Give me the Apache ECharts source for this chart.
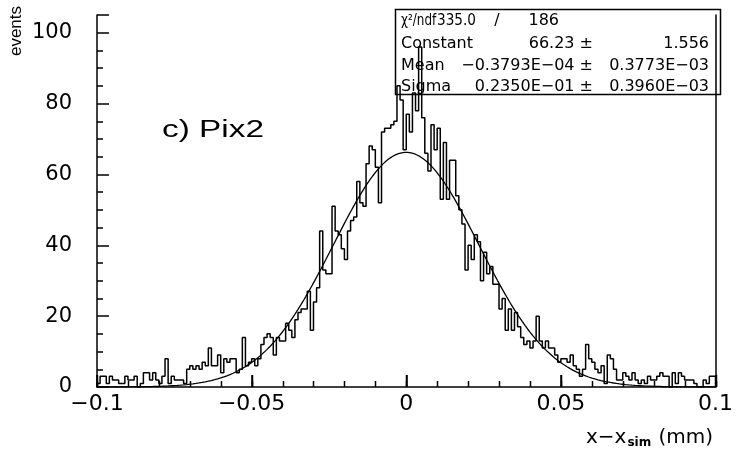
<!DOCTYPE html>
<html>
<head>
<meta charset="utf-8">
<script src="https://cdn.jsdelivr.net/npm/echarts@6/dist/echarts.min.js"></script>
<style>html,body{margin:0;padding:0;background:#fff}#c{width:736px;height:454px}</style>
</head>
<body>
<div id="c"></div>
<script>
// ---- data ----
const xMin = -0.1;
const xMax = 0.1;
const binWidth = 0.001;
const counts = [
  1,3,3,1,3,2,2,1,1,3, 2,2,3,0,1,4,4,2,4,2,
  1,3,8,1,3,2,2,2,1,5, 6,5,6,5,7,6,11,6,6,9,
  4,8,7,8,8,4,5,14,6,7, 8,6,8,12,14,15,14,9,14,13,
  13,18,16,14,19,21,22,22,27,16, 24,28,44,33,32,32,51,44,43,39,
  36,44,47,48,58,52,51,63,68,67, 62,52,72,73,73,74,75,85,81,67,
  77,72,83,78,96,76,66,61,74,67, 73,53,69,53,64,64,54,50,46,33,
  40,36,43,41,30,38,32,34,29,29, 22,25,16,22,16,21,17,14,12,13,
  11,13,20,13,11,13,11,11,9,7, 8,8,7,9,6,5,3,5,12,8,
  7,5,4,6,1,9,8,5,2,2, 4,3,2,4,2,1,2,1,3,2,
  2,3,4,3,3,0,4,1,4,3, 2,2,2,1,0,0,2,1,3,3
];
const xTickValues = [-0.1, -0.05, 0, 0.05, 0.1];
const xTickLabels = ['\u22120.1', '\u22120.05', '0', '0.05', '0.1'];
const xMinorStep = 0.01;
const yTickValues = [0, 20, 40, 60, 80, 100];
const yTickLabels = ['0', '20', '40', '60', '80', '100'];
// fit parameters printed in the stats box
const fitConstant = 66.23;
const fitMean = -0.3793E-04;
const fitSigma = 0.2350E-01;
const statsRows = [
  ['\u03c7\u00b2/ndf', '335.0', '/', '186'],
  ['Constant', '66.23 \u00b1', '1.556'],
  ['Mean', '\u22120.3793E\u221204 \u00b1', '0.3773E\u221203'],
  ['Sigma', '0.2350E\u221201 \u00b1', '0.3960E\u221203']
];

// ---- build series data ----
const histData = [[xMin, 0]];
counts.forEach((c, i) => histData.push([xMin + i * binWidth, c]));
histData.push([xMin + counts.length * binWidth, counts[counts.length - 1]]);
histData.push([xMin + counts.length * binWidth, 0]);

// fitted gaussian, evaluated from the printed fit parameters
const fitData = [];
for (let i = 0; i <= 400; i++) {
  const x = xMin + i * (xMax - xMin) / 400;
  const t = (x - fitMean) / fitSigma;
  fitData.push([x, fitConstant * Math.exp(-0.5 * t * t)]);
}

// x-axis minor tick values (every 0.01)
const minorTickValues = [];
for (let i = 0; i <= Math.round((xMax - xMin) / xMinorStep); i++) minorTickValues.push(xMin + i * xMinorStep);

const ax = () => ({ color: '#000', width: 1.5 });
const tickFont = 'DejaVu Sans';
const statFont = '16px "DejaVu Sans"';

const graphics = [
  { type: 'rect', shape: { x: 395.5, y: 9.5, width: 325, height: 85 },
    style: { fill: 'none', stroke: '#000', lineWidth: 1.5 }, z: 100 },
  { type: 'text', x: 401, y: 21, scaleX: 0.75, style: { text: statsRows[0][0], font: statFont, fill: '#000', align: 'left', verticalAlign: 'middle' }, z: 101 },
  { type: 'text', x: 437, y: 21, scaleX: 0.85, style: { text: statsRows[0][1], font: statFont, fill: '#000', align: 'left', verticalAlign: 'middle' }, z: 101 },
  { type: 'text', x: 497, y: 21, style: { text: statsRows[0][2], font: statFont, fill: '#000', align: 'center', verticalAlign: 'middle' }, z: 101 },
  { type: 'text', x: 559, y: 21, style: { text: statsRows[0][3], font: statFont, fill: '#000', align: 'right', verticalAlign: 'middle' }, z: 101 }
];
const rowY = [21, 44, 66, 87];
for (let r = 1; r < 4; r++) {
  graphics.push({ type: 'text', x: 401, y: rowY[r], style: { text: statsRows[r][0], font: statFont, fill: '#000', align: 'left', verticalAlign: 'middle' }, z: 101 });
  graphics.push({ type: 'text', x: 593, y: rowY[r], style: { text: statsRows[r][1], font: statFont, fill: '#000', align: 'right', verticalAlign: 'middle' }, z: 101 });
  graphics.push({ type: 'text', x: 709, y: rowY[r], style: { text: statsRows[r][2], font: statFont, fill: '#000', align: 'right', verticalAlign: 'middle' }, z: 101 });
}
graphics.push({ type: 'text', x: 162, y: 131, scaleX: 1.45,
  style: { text: 'c) Pix2', font: '23px "Liberation Sans"', fill: '#000', align: 'left', verticalAlign: 'middle' } });
graphics.push({ type: 'text', x: 16, y: 31, rotation: Math.PI / 2,
  style: { text: 'events', font: '17px "Liberation Sans"', fill: '#000', align: 'center', verticalAlign: 'middle' } });
graphics.push({ type: 'text', x: 586, y: 438,
  style: { text: 'x\u2212x{s|sim} (mm)', font: '20px "DejaVu Sans"', fill: '#000', align: 'left', verticalAlign: 'middle',
    rich: { s: { fontSize: 12, fontWeight: 'bold', fontFamily: 'DejaVu Sans', padding: [9, 1, 0, 1] } } } });

const chart = echarts.init(document.getElementById('c'), null, { renderer: 'canvas' });
chart.setOption({
  animation: false,
  backgroundColor: '#fff',
  grid: { left: 97, right: 16, top: 15, bottom: 67 },
  xAxis: [
    { type: 'value', min: xMin, max: xMax, interval: 0.05, position: 'bottom',
      axisLine: { show: true, onZero: false, lineStyle: ax() },
      axisTick: { show: true, inside: true, length: 12, lineStyle: ax() },
      splitLine: { show: false },
      axisLabel: { color: '#000', fontFamily: tickFont, fontSize: 22, margin: 6,
        formatter: v => { const k = xTickValues.findIndex(t => Math.abs(t - v) < 1e-9); return k >= 0 ? xTickLabels[k] : ''; } } }
  ],
  yAxis: [
    { type: 'value', min: 0, max: 105, interval: 20, position: 'left',
      axisLine: { show: true, onZero: false, lineStyle: ax() },
      axisTick: { show: true, inside: true, length: 12, lineStyle: ax() },
      splitLine: { show: false },
      axisLabel: { color: '#000', fontFamily: tickFont, fontSize: 21, margin: 25,
        formatter: v => { const k = yTickValues.indexOf(v); return k >= 0 ? yTickLabels[k] : ''; } } },
    { type: 'value', min: 0, max: 105, interval: 5, position: 'left',
      axisLine: { show: false, onZero: false }, axisTick: { show: true, inside: true, length: 6, lineStyle: ax() },
      axisLabel: { show: false }, splitLine: { show: false } },
    { type: 'value', min: 0, max: 105, position: 'right',
      axisLine: { show: true, onZero: false, lineStyle: ax() }, axisTick: { show: false },
      axisLabel: { show: false }, splitLine: { show: false } }
  ],
  series: [
    { type: 'line', data: histData, step: 'end', symbol: 'none', showSymbol: false,
      lineStyle: { color: '#000', width: 1.5 }, xAxisIndex: 0, yAxisIndex: 0, z: 3 },
    { type: 'line', data: fitData, symbol: 'none', showSymbol: false, smooth: false,
      lineStyle: { color: '#000', width: 1.3 }, xAxisIndex: 0, yAxisIndex: 0, z: 4 }
  ],
  graphic: graphics
});

// inward x-axis ticks placed through the x scale of the chart
const tickLines = [];
const addTick = (v, len) => {
  const p = chart.convertToPixel({ xAxisIndex: 0, yAxisIndex: 0 }, [v, 0]);
  const px = Math.round(p[0]) + 0.5;
  tickLines.push({ type: 'line', shape: { x1: px, y1: p[1], x2: px, y2: p[1] - len },
    style: { stroke: '#000', lineWidth: 1.5 }, z: 200, silent: true });
};
xTickValues.forEach(v => addTick(v, 12));
minorTickValues.forEach(v => addTick(v, 6));
chart.setOption({ graphic: graphics.concat(tickLines) });
</script>
</body>
</html>
